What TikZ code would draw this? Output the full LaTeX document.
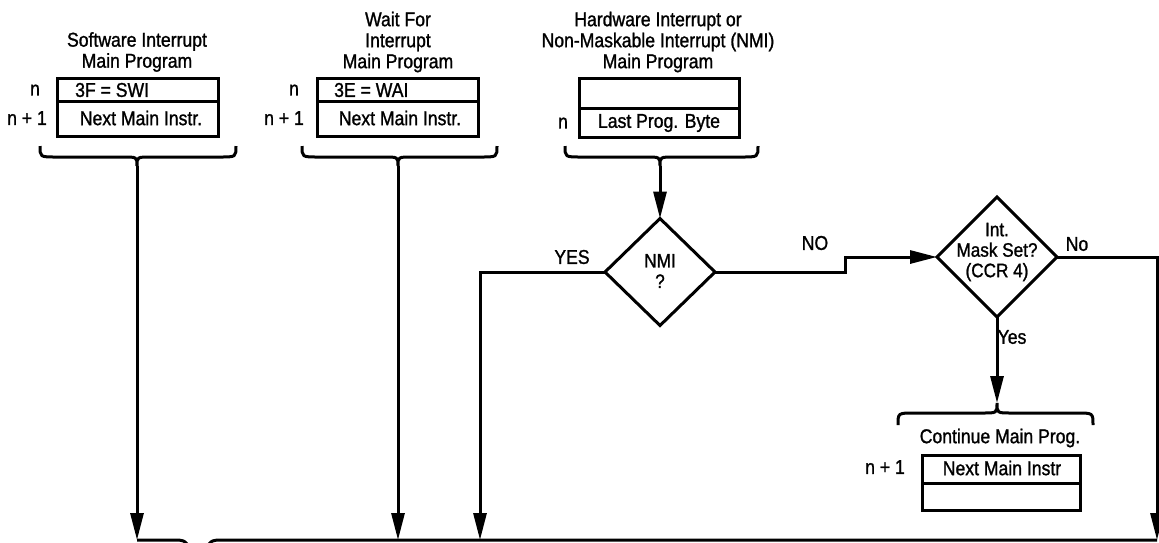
\documentclass[tikz,border=0pt]{standalone}
\usepackage{fontspec}
\setmainfont{Liberation Sans}[FakeStretch=0.88,FakeBold=1.2]
\usetikzlibrary{arrows.meta,shapes.geometric}
\newcommand\dnbrace[6]{%
  \draw[ln] (#1,#4) .. controls (#1,#5) .. ({#1+16},#5) -- ({#2-14},#5)
    .. controls (#2,#5) .. (#2,#6) .. controls (#2,#5) .. ({#2+14},#5)
    -- ({#3-16},#5) .. controls (#3,#5) .. (#3,#4);}
\begin{document}
\begin{tikzpicture}[x=1pt,y=-1pt,
  ln/.style={line width=3pt},
  arr/.style={ln,-{Triangle[length=27pt,width=13pt]}},
  cell/.style={draw,ln,inner sep=0pt,outer sep=0pt,anchor=north west},
  txt/.style={font=\fontsize{20}{21}\selectfont,inner sep=0pt,align=center},
  dtxt/.style={font=\fontsize{19.5}{20.5}\selectfont,inner sep=0pt,align=center},
  dec/.style={diamond,draw,ln,inner sep=0pt,outer sep=0pt},
]
\useasboundingbox (0,0) rectangle (1159,542);

% titles
\node[txt] (h1) at (137,52) {Software Interrupt\\Main Program};
\node[txt] (h2) at (398,42) {Wait For\\Interrupt\\Main Program};
\node[txt] (h3) at (658,42) {Hardware Interrupt or\\Non-Maskable Interrupt (NMI)\\Main Program};

% box 1
\node[cell,minimum width=161pt,minimum height=23pt] (s1) at (57,78) {};
\node[cell,minimum width=161pt,minimum height=35pt] (s2) at (57,101) {};
\node[txt,anchor=west] (s1t) at (75,90) {3F = SWI};
\node[txt] (s2t) at (141,118) {Next Main Instr.};
\node[txt] (s1n) at (35,90) {n};
\node[txt] (s2n) at (27,118) {n + 1};

% box 2
\node[cell,minimum width=161pt,minimum height=23pt] (w1) at (317,78) {};
\node[cell,minimum width=161pt,minimum height=35pt] (w2) at (317,101) {};
\node[txt,anchor=west] (w1t) at (334,90) {3E = WAI};
\node[txt] (w2t) at (400,118) {Next Main Instr.};
\node[txt] (w1n) at (294,90) {n};
\node[txt] (w2n) at (284,118) {n + 1};

% box 3
\node[cell,minimum width=160pt,minimum height=30pt] (h3a) at (579,78) {};
\node[cell,minimum width=160pt,minimum height=29pt] (h3b) at (579,108) {};
\node[txt] (h3t) at (659,123) {Last Prog. Byte};
\node[txt] (h3n) at (563,123) {n};

% braces
\dnbrace{40}{137}{236}{146}{157}{166}
\dnbrace{302}{398}{497}{146}{157}{166}
\dnbrace{565}{660}{758}{146}{157}{166}
\coordinate (t1) at (137,166);
\coordinate (t2) at (398,166);
\coordinate (t3) at (660,166);

% decisions
\node[dec,minimum width=110pt,minimum height=107pt] (nmi) at (660,272) {};
\node[dtxt] (nmit) at (660,271) {NMI\\?};
\node[dec,minimum width=120pt,minimum height=120pt] (mask) at (997,257) {};
\node[dtxt] (maskt) at (997,252) {Int.\\Mask Set?\\(CCR 4)};

% continue box
\node[txt] (ct) at (1000,438) {Continue Main Prog.};
\node[cell,minimum width=158pt,minimum height=28pt] (c1) at (922,455) {};
\node[cell,minimum width=158pt,minimum height=27pt] (c2) at (922,483) {};
\node[txt] (c1t) at (1002,468) {Next Main Instr};
\node[txt] (c1n) at (885,467) {n + 1};
\draw[ln] (898,425) .. controls (898,413) .. (914,413) -- (983,413)
  .. controls (997,413) .. (997,403) .. controls (997,413) .. (1011,413)
  -- (1077,413) .. controls (1093,413) .. (1093,425);
\coordinate (t4) at (997,403);

% bottom
\coordinate (b1) at (137,540);
\coordinate (b2) at (398,540);
\coordinate (b3) at (480,540);
\coordinate (b4) at (1157,540);
\draw[ln] (b1) -- (172,540) .. controls (186,540) .. (193,556);
\draw[ln] (203,556) .. controls (210,540) .. (224,540) -- (b4);

% connectors
\draw[arr] (t1) -- (b1);
\draw[arr] (t2) -- (b2);
\draw[arr] (t3) -- (nmi.north);
\draw[arr] (nmi.west) -| (b3);
\draw[arr] (nmi.east) -- ++(130,0) |- (mask.west);
\draw[arr] (mask.east) -| (b4);
\draw[arr] (mask.south) -- (t4);

% labels
\node[txt] (yes) at (572,257) {YES};
\node[txt] (no) at (815,243) {NO};
\node[txt] (no2) at (1077,244) {No};
\node[txt] (yes2) at (1012,337) {Yes};
\end{tikzpicture}
\end{document}
